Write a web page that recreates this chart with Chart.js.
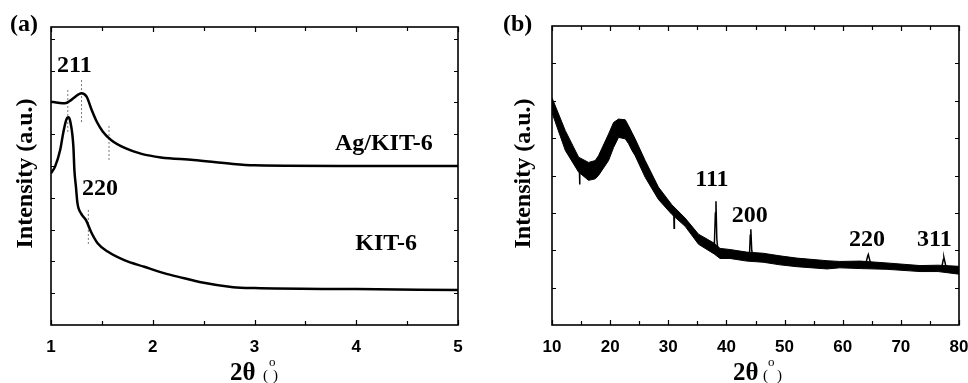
<!DOCTYPE html>
<html>
<head>
<meta charset="utf-8">
<script src="https://cdn.jsdelivr.net/npm/chart.js@4.4.1/dist/chart.umd.min.js"></script>
<style>
  body { margin: 0; background: #fff; }
  #wrap { position: relative; width: 968px; height: 383px; }
  canvas { position: absolute; top: 0; }
  #chartA { left: 0; }
  #chartB { left: 480px; }
</style>
</head>
<body>
<div id="wrap">
  <canvas id="chartA" width="480" height="383"></canvas>
  <canvas id="chartB" width="488" height="383"></canvas>
</div>
<script>
'use strict';

// (a) low-angle XRD, arbitrary intensity units
const agTheta = [1.00, 1.07, 1.137, 1.20, 1.27, 1.30, 1.35, 1.40, 1.45, 1.51, 1.59, 1.73, 1.89, 2.08, 2.4, 2.79, 3.0, 4.0, 5.0];
const agIntensity = [7.02, 6.99, 6.97, 7.08, 7.25, 7.29, 7.18, 6.76, 6.39, 6.08, 5.82, 5.56, 5.38, 5.27, 5.19, 5.06, 5.02, 5.0, 5.0];
const kitTheta = [1.00, 1.04, 1.09, 1.12, 1.15, 1.17, 1.19, 1.22, 1.23, 1.245, 1.26, 1.295, 1.344, 1.393, 1.458, 1.557, 1.72, 1.917, 2.11, 2.31, 2.46, 2.79, 3.0, 4.0, 5.0];
const kitIntensity = [4.77, 4.98, 5.50, 6.04, 6.45, 6.53, 6.39, 5.61, 4.87, 4.35, 3.83, 3.51, 3.30, 2.93, 2.57, 2.31, 2.04, 1.83, 1.63, 1.47, 1.35, 1.19, 1.16, 1.13, 1.10];
// dashed peak markers
const markTheta = [1.165, 1.30, 1.57, 1.367];
const markLow = [6.07, 6.38, 5.19, 2.55];
const markHigh = [7.42, 7.77, 6.29, 3.62];

// (b) wide-angle XRD: noise band edges and centre trace
const bandTheta = [10, 12.29, 14.58, 16.29, 17.44, 18.0, 19.73, 20.59, 21.45, 22.6, 23.17, 23.75, 24.3, 26.03, 28.3, 30.6, 32.9, 35.2, 37.9, 38.9, 40.6, 43.5, 46.3, 49.2, 52.1, 57.3, 59.5, 63, 67.6, 73.3, 76.4, 80];
const bandUpper = [6.08, 5.20, 4.49, 4.35, 4.40, 4.53, 5.11, 5.42, 5.51, 5.49, 5.33, 5.15, 4.98, 4.40, 3.69, 3.22, 2.86, 2.43, 2.19, 2.05, 2.02, 1.95, 1.92, 1.85, 1.79, 1.72, 1.70, 1.71, 1.66, 1.59, 1.60, 1.57];
const bandLower = [5.68, 4.67, 4.09, 3.87, 3.91, 4.00, 4.40, 4.75, 5.02, 4.98, 4.85, 4.67, 4.53, 3.95, 3.36, 2.96, 2.64, 2.16, 1.90, 1.78, 1.78, 1.71, 1.68, 1.61, 1.56, 1.50, 1.53, 1.51, 1.49, 1.43, 1.43, 1.36];
const traceTheta = [10, 12.29, 14.58, 14.7, 14.75, 14.8, 16.29, 17.44, 18.0, 19.73, 20.59, 21.45, 22.6, 23.17, 23.75, 24.3, 26.03, 28.3, 30.6, 30.95, 31.0, 31.05, 32.9, 35.2, 37.9, 38.1, 38.2, 38.35, 38.6, 40.6, 43.5, 43.95, 44.1, 44.2, 44.35, 44.6, 46.3, 49.2, 52.1, 57.3, 59.5, 63.9, 64.3, 64.4, 64.7, 65.2, 67.6, 73.3, 76.4, 77.0, 77.3, 77.4, 77.7, 78.1, 80];
const traceIntensity = [5.88, 4.93, 4.29, 4.25, 3.76, 4.25, 4.11, 4.15, 4.26, 4.75, 5.08, 5.26, 5.23, 5.09, 4.91, 4.75, 4.17, 3.51, 3.09, 3.0, 2.59, 3.0, 2.75, 2.29, 2.04, 3.0, 3.31, 2.3, 1.88, 1.89, 1.82, 1.82, 2.4, 2.56, 2.0, 1.8, 1.8, 1.72, 1.66, 1.6, 1.61, 1.6, 1.85, 1.89, 1.7, 1.6, 1.57, 1.5, 1.52, 1.52, 1.75, 1.81, 1.6, 1.5, 1.46];

const aLabels = [
  { text: '211', x: 1.059, y: 7.96 },
  { text: '220', x: 1.305, y: 4.10 },
  { text: 'Ag/KIT-6', x: 3.79, y: 5.50 },
  { text: 'KIT-6', x: 3.99, y: 2.36 }
];
const bLabels = [
  { text: '111', x: 34.63, y: 3.73 },
  { text: '200', x: 40.93, y: 2.75 },
  { text: '220', x: 61.09, y: 2.11 },
  { text: '311', x: 72.78, y: 2.11 }
];

function toPoints(xs, ys) {
  return xs.map((x, i) => ({ x: x, y: ys[i] }));
}

const SERIF = '"Liberation Serif", "Times New Roman", serif';
const SANS = '"Liberation Sans", Arial, sans-serif';

const framePlugin = {
  id: 'frame',
  afterDraw(chart, args, opts) {
    const ctx = chart.ctx;
    const { left, right, top, bottom } = chart.chartArea;
    const xs = chart.scales.x;
    const ys = chart.scales.y;
    ctx.save();
    ctx.strokeStyle = '#000';
    ctx.lineWidth = 1.2;
    ctx.beginPath();
    for (const v of opts.xMajor) {
      const px = Math.round(xs.getPixelForValue(v)) + 0.5;
      ctx.moveTo(px, bottom); ctx.lineTo(px, bottom - 5);
      ctx.moveTo(px, top); ctx.lineTo(px, top + 5);
    }
    for (const v of opts.xMinor) {
      const px = Math.round(xs.getPixelForValue(v)) + 0.5;
      ctx.moveTo(px, bottom); ctx.lineTo(px, bottom - 4);
      ctx.moveTo(px, top); ctx.lineTo(px, top + 4);
    }
    for (const v of opts.yTicks) {
      const py = Math.round(ys.getPixelForValue(v)) + 0.5;
      ctx.moveTo(left, py); ctx.lineTo(left + 4, py);
      ctx.moveTo(right, py); ctx.lineTo(right - 4, py);
    }
    ctx.stroke();
    ctx.lineWidth = 1.6;
    ctx.strokeRect(left, top, right - left, bottom - top);

    ctx.fillStyle = '#000';
    ctx.textAlign = 'left';
    ctx.textBaseline = 'alphabetic';
    ctx.font = 'bold 24px ' + SERIF;
    for (const l of opts.labels) {
      ctx.fillText(l.text, xs.getPixelForValue(l.x), ys.getPixelForValue(l.y));
    }
    // panel letter
    ctx.font = 'bold 24px ' + SERIF;
    ctx.fillText(opts.panel, opts.panelX, 31);
    // x title
    const t = opts.xTitle;
    ctx.font = 'bold 25px ' + SERIF;
    ctx.fillText('2\u03b8', t.x, 380);
    ctx.font = '15px ' + SERIF;
    ctx.fillText('(', t.open, 380);
    ctx.fillText(')', t.close, 380);
    ctx.font = '13px ' + SERIF;
    ctx.fillText('o', t.deg, 366);
    // y title
    ctx.translate(opts.yTitleX, 173.5);
    ctx.rotate(-Math.PI / 2);
    ctx.textAlign = 'center';
    ctx.font = 'bold 24px ' + SERIF;
    ctx.fillText('Intensity (a.u.)', 0, 0);
    ctx.restore();
  }
};

function makeScales(xMin, xMax, xStep, yMax, yWidth) {
  return {
    x: {
      type: 'linear', min: xMin, max: xMax,
      grid: { display: false, drawTicks: false },
      border: { display: false },
      ticks: { stepSize: xStep, maxRotation: 0, padding: 12, color: '#000',
        font: { family: SANS, weight: 'bold', size: 17 } },
      afterFit(s) { s.height = 58; s.paddingLeft = 0; s.paddingRight = 0; }
    },
    y: {
      type: 'linear', min: 0, max: yMax,
      grid: { display: false, drawTicks: false },
      border: { display: false },
      ticks: { display: false },
      afterFit(s) { s.width = yWidth; }
    }
  };
}

const markSets = markTheta.map((x, i) => ({
  data: [{ x: x, y: markLow[i] }, { x: x, y: markHigh[i] }],
  showLine: true, pointRadius: 0, borderColor: '#777', borderWidth: 1, borderDash: [2, 2]
}));

new Chart(document.getElementById('chartA'), {
  type: 'scatter',
  data: {
    datasets: [
      { label: 'Ag/KIT-6', data: toPoints(agTheta, agIntensity), showLine: true, pointRadius: 0,
        borderColor: '#000', borderWidth: 2.5, cubicInterpolationMode: 'monotone' },
      { label: 'KIT-6', data: toPoints(kitTheta, kitIntensity), showLine: true, pointRadius: 0,
        borderColor: '#000', borderWidth: 2.5, cubicInterpolationMode: 'monotone' }
    ].concat(markSets)
  },
  options: {
    responsive: false, animation: false, devicePixelRatio: 1, events: [],
    layout: { padding: { top: 27, right: 22, left: 0, bottom: 0 } },
    scales: makeScales(1, 5, 1, 9.37, 51),
    plugins: {
      legend: { display: false }, tooltip: { enabled: false },
      frame: {
        xMajor: [1, 2, 3, 4, 5], xMinor: [1.5, 2.5, 3.5, 4.5], yTicks: [1, 2, 3, 4, 5, 6, 7, 8, 9],
        labels: aLabels, panel: '(a)', panelX: 10, yTitleX: 32,
        xTitle: { x: 230, open: 263, deg: 269, close: 273 }
      }
    }
  },
  plugins: [framePlugin]
});

new Chart(document.getElementById('chartB'), {
  type: 'scatter',
  data: {
    datasets: [
      { label: 'upper', data: toPoints(bandTheta, bandUpper), showLine: true, pointRadius: 0,
        borderColor: '#000', borderWidth: 1, fill: false },
      { label: 'lower', data: toPoints(bandTheta, bandLower), showLine: true, pointRadius: 0,
        borderColor: '#000', borderWidth: 1, fill: '-1', backgroundColor: '#000' },
      { label: 'Ag/KIT-6', data: toPoints(traceTheta, traceIntensity), showLine: true, pointRadius: 0,
        borderColor: '#000', borderWidth: 1.5 }
    ]
  },
  options: {
    responsive: false, animation: false, devicePixelRatio: 1, events: [],
    layout: { padding: { top: 26, right: 9, left: 0, bottom: 0 } },
    scales: makeScales(10, 80, 10, 8, 72),
    plugins: {
      legend: { display: false }, tooltip: { enabled: false },
      frame: {
        xMajor: [10, 20, 30, 40, 50, 60, 70, 80], xMinor: [15, 25, 35, 45, 55, 65, 75], yTicks: [1, 2, 3, 4, 5, 6, 7],
        labels: bLabels, panel: '(b)', panelX: 23, yTitleX: 50,
        xTitle: { x: 253, open: 283, deg: 288, close: 297 }
      }
    }
  },
  plugins: [framePlugin]
});
</script>
</body>
</html>
